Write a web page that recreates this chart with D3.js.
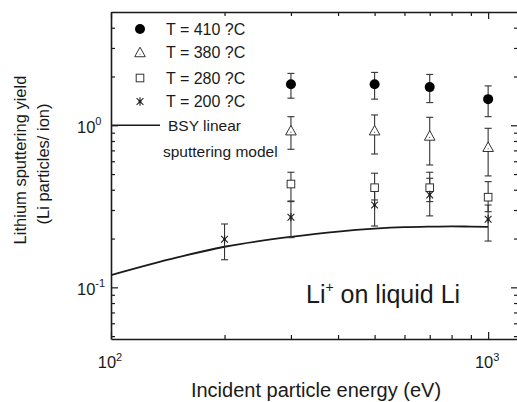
<!DOCTYPE html>
<html>
<head>
<meta charset="utf-8">
<script src="https://cdn.jsdelivr.net/npm/d3@7"></script>
<style>
  html, body { margin: 0; padding: 0; background: #fff; }
  svg { display: block; font-family: "Liberation Sans", Arial, sans-serif; }
</style>
</head>
<body>
<svg id="chart" width="517" height="402"></svg>
<script>
// ---------------- data ----------------
const energies = [300, 500, 700, 1000];
const t410 = [1.79, 1.79, 1.72, 1.45];
const t410Lo = [1.47, 1.45, 1.38, 1.13];
const t410Hi = [2.09, 2.12, 2.06, 1.75];

const t380 = [0.926, 0.926, 0.859, 0.732];
const t380Lo = [0.711, 0.665, 0.569, 0.487];
const t380Hi = [1.13, 1.158, 1.12, 0.958];

const t280 = [0.434, 0.412, 0.412, 0.36];
const t280Lo = [0.341, 0.346, 0.338, 0.293];
const t280Hi = [0.513, 0.506, 0.513, 0.449];

const energies200 = [200, 300, 500, 700, 1000];
const t200 = [0.198, 0.271, 0.322, 0.372, 0.263];
const t200Lo = [0.148, 0.2025, 0.239, 0.276, 0.193];
const t200Hi = [0.246, 0.338, 0.409, 0.471, 0.322];

const bsyEnergies = [100, 150, 200, 300, 400, 500, 600, 700, 800, 900, 1000];
const bsyYield = [0.119, 0.153, 0.178, 0.205, 0.221, 0.230, 0.235, 0.237, 0.238, 0.237, 0.236];

const legendLabels = ["T = 410 ?C", "T = 380 ?C", "T = 280 ?C", "T = 200 ?C"];
const xMajorTicks = [100, 1000];
const xMinorTicks = [200, 300, 400, 500, 600, 700, 800, 900];
const yMajorTicks = [0.1, 1];
const yMinorTicks = [0.05, 0.06, 0.07, 0.08, 0.09, 0.2, 0.3, 0.4, 0.5, 0.6, 0.7, 0.8, 0.9, 2, 3, 4];
const xTickExp = ["2", "3"];
const yTickExp = ["-1", "0"];

// ---------------- layout ----------------
const L = 111, R = 518, T = 12, B = 339;
const svg = d3.select("#chart");
const x = d3.scaleLog().domain([100, 1200]).range([L, R]);
const y = d3.scaleLog().domain([0.048, 5]).range([B, T]);
const ink = "#1a1a1a";
const MAJ = 7, MIN = 4;

// axes (ticks inward)
function styleAxis(g) {
  g.select(".domain").attr("stroke", ink).attr("stroke-width", 1.6);
  g.selectAll(".tick line").attr("stroke", ink).attr("stroke-width", 1.2);
  g.selectAll(".tick text").remove();
}
function addAxis(gen, tr, vals, len, showDomain) {
  const g = svg.append("g").attr("transform", tr)
    .call(gen.tickValues(vals).tickSizeInner(-len).tickSizeOuter(0).tickFormat(() => ""));
  styleAxis(g);
  if (!showDomain) g.select(".domain").remove();
  return g;
}
addAxis(d3.axisBottom(x), `translate(0,${B})`, xMajorTicks, MAJ, true);
addAxis(d3.axisBottom(x), `translate(0,${B})`, xMinorTicks, MIN, false);
addAxis(d3.axisTop(x), `translate(0,${T})`, xMajorTicks, MAJ, true);
addAxis(d3.axisTop(x), `translate(0,${T})`, xMinorTicks, MIN, false);
addAxis(d3.axisLeft(y), `translate(${L},0)`, yMajorTicks, MAJ, true);
addAxis(d3.axisLeft(y), `translate(${L},0)`, yMinorTicks, MIN, false);
addAxis(d3.axisRight(y), `translate(${R},0)`, yMajorTicks, MAJ, true);
addAxis(d3.axisRight(y), `translate(${R},0)`, yMinorTicks, MIN, false);

// tick labels with superscripts
xMajorTicks.forEach((v, i) => {
  const t = svg.append("text").attr("x", x(v) - 1).attr("y", B + 29)
    .attr("text-anchor", "middle").attr("font-size", 16.5).attr("fill", ink);
  t.append("tspan").text("10");
  t.append("tspan").attr("dy", -7.5).attr("font-size", 11).text(xTickExp[i]);
});
yMajorTicks.forEach((v, i) => {
  const t = svg.append("text").attr("x", 77).attr("y", y(v) + 7.5)
    .attr("text-anchor", "start").attr("font-size", 16.5).attr("fill", ink);
  t.append("tspan").text("10");
  t.append("tspan").attr("dy", -7.5).attr("font-size", 11).text(yTickExp[i]);
});

// axis titles
svg.append("text").attr("x", 316).attr("y", 397)
  .attr("text-anchor", "middle").attr("font-size", 20).attr("fill", ink)
  .text("Incident particle energy (eV)");
svg.append("text").attr("transform", "translate(26,160) rotate(-90)")
  .attr("text-anchor", "middle").attr("font-size", 16.5).attr("fill", ink)
  .text("Lithium sputtering yield");
svg.append("text").attr("transform", "translate(49,164) rotate(-90)")
  .attr("text-anchor", "middle").attr("font-size", 16.5).attr("fill", ink)
  .text("(Li particles/ ion)");

// BSY model curve
const line = d3.line().x(d => x(d[0])).y(d => y(d[1])).curve(d3.curveMonotoneX);
svg.append("path").datum(bsyEnergies.map((e, i) => [e, bsyYield[i]]))
  .attr("d", line).attr("fill", "none").attr("stroke", ink).attr("stroke-width", 1.8);

// error bars
const errColor = "#333";
function errorBars(xs, lo, hi) {
  const g = svg.append("g").attr("stroke", errColor).attr("stroke-width", 1.1);
  xs.forEach((e, i) => {
    const cx = x(e);
    g.append("line").attr("x1", cx).attr("x2", cx).attr("y1", y(lo[i])).attr("y2", y(hi[i]));
    [lo[i], hi[i]].forEach(v => {
      g.append("line").attr("x1", cx - 3.5).attr("x2", cx + 3.5).attr("y1", y(v)).attr("y2", y(v));
    });
  });
}
errorBars(energies, t410Lo, t410Hi);
errorBars(energies, t380Lo, t380Hi);
errorBars(energies, t280Lo, t280Hi);
errorBars(energies200, t200Lo, t200Hi);

// markers
function circleM(g, cx, cy) {
  g.append("circle").attr("cx", cx).attr("cy", cy).attr("r", 5).attr("fill", "#000");
}
function triM(g, cx, cy) {
  const s = 5.3;
  g.append("path").attr("d", `M${cx},${cy - s}L${cx + s},${cy + s * 0.8}L${cx - s},${cy + s * 0.8}Z`)
    .attr("fill", "#fff").attr("stroke", "#333").attr("stroke-width", 1);
  g.append("circle").attr("cx", cx).attr("cy", cy + 1.5).attr("r", 0.6).attr("fill", "#555");
}
function sqM(g, cx, cy) {
  const s = 3.8;
  g.append("rect").attr("x", cx - s).attr("y", cy - s).attr("width", 2 * s).attr("height", 2 * s)
    .attr("fill", "#fff").attr("stroke", "#333").attr("stroke-width", 1);
}
function starM(g, cx, cy) {
  const s = 4.2, d = 3.4;
  g.append("path").attr("d",
    `M${cx},${cy - s}L${cx},${cy + s}M${cx - d},${cy - d}L${cx + d},${cy + d}M${cx - d},${cy + d}L${cx + d},${cy - d}`)
    .attr("stroke", "#222").attr("stroke-width", 1.1).attr("fill", "none");
  g.append("circle").attr("cx", cx).attr("cy", cy).attr("r", 1.4).attr("fill", "#222");
}
const mg = svg.append("g");
energies.forEach((e, i) => circleM(mg, x(e), y(t410[i])));
energies.forEach((e, i) => triM(mg, x(e), y(t380[i])));
energies.forEach((e, i) => sqM(mg, x(e), y(t280[i])));
energies200.forEach((e, i) => starM(mg, x(e), y(t200[i])));

// legend
const lg = svg.append("g");
const legY = [29, 52.5, 78, 101.5];
const markers = [circleM, triM, sqM, starM];
legY.forEach((ly, i) => {
  markers[i](lg, 140, ly);
  lg.append("text").attr("x", 166).attr("y", ly + 5.5).attr("font-size", 16).attr("fill", ink)
    .text(legendLabels[i]);
});
lg.append("line").attr("x1", L).attr("x2", 160).attr("y1", y(1)).attr("y2", y(1))
  .attr("stroke", ink).attr("stroke-width", 1.6);
lg.append("text").attr("x", 168).attr("y", y(1) + 5.5).attr("font-size", 15.5).attr("fill", ink)
  .text("BSY linear");
lg.append("text").attr("x", 163).attr("y", 157).attr("font-size", 15.5).attr("fill", ink)
  .text("sputtering model");

// annotation
const ann = svg.append("text").attr("x", 306).attr("y", 303).attr("font-size", 25).attr("fill", ink);
ann.append("tspan").text("Li");
ann.append("tspan").attr("dy", -11).attr("font-size", 14).text("+");
ann.append("tspan").attr("dy", 11).text(" on liquid Li");
</script>
</body>
</html>
